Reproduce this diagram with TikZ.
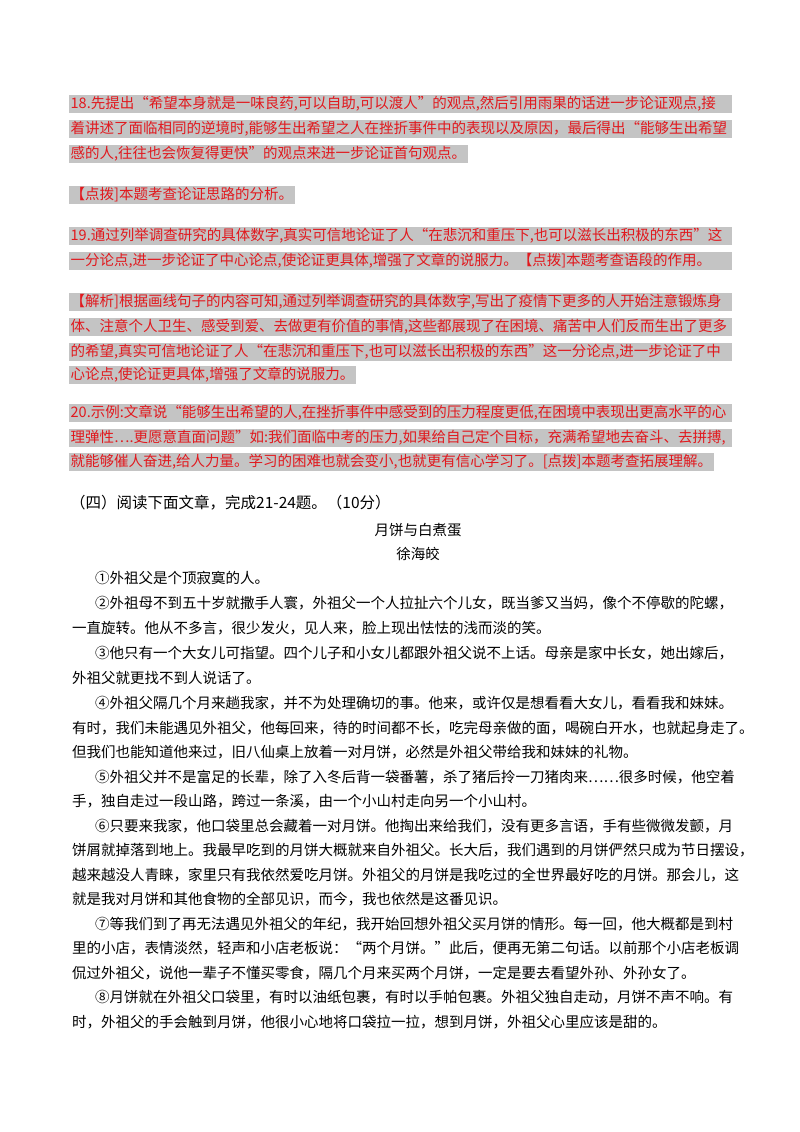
\documentclass[tikz,border=0pt]{standalone}
\usepackage{fontspec}
\setmainfont{Noto Sans CJK SC}
\definecolor{ansred}{RGB}{225,25,30}
\definecolor{hl}{RGB}{196,196,196}
\XeTeXlinebreaklocale "zh"
\XeTeXlinebreakskip=0pt plus 3pt
\newcommand\rfull[1]{\hbox to 660pt{#1}}
\newcommand\bfull[1]{\hbox to 655pt{#1}}
\newcommand\bind[1]{\hbox to 632pt{#1}}
\begin{document}
\begin{tikzpicture}[x=1pt,y=-1pt,
  ans/.style={anchor=west,fill=hl,text=ansred,inner sep=1.5pt,font=\fontsize{14.5}{17}\selectfont},
  body/.style={anchor=west,inner sep=0pt,font=\fontsize{14.5}{17}\selectfont}]
\useasboundingbox[fill=white] (0,0) rectangle (800,1132);
\node[ans] (r1) at (69,104) {\rfull{18.先提出“希望本身就是一味良药,可以自助,可以渡人”的观点,然后引用雨果的话进一步论证观点,接}};
\node[ans] (r2) at (69,129) {\rfull{着讲述了面临相同的逆境时,能够生出希望之人在挫折事件中的表现以及原因，最后得出“能够生出希望}};
\node[ans] (r3) at (69,154) {感的人,往往也会恢复得更快”的观点来进一步论证首句观点。};
\node[ans] (r4) at (69,195) {【点拨]本题考查论证思路的分析。};
\node[ans] (r5) at (69,236) {\rfull{19.通过列举调查研究的具体数字,真实可信地论证了人“在悲沉和重压下,也可以滋长出积极的东西”这}};
\node[ans] (r6) at (69,261) {\rfull{一分论点,进一步论证了中心论点,使论证更具体,增强了文章的说服力。【点拨]本题考查语段的作用。}};
\node[ans] (r7) at (69,302) {\rfull{【解析]根据画线句子的内容可知,通过列举调查研究的具体数字,写出了疫情下更多的人开始注意锻炼身}};
\node[ans] (r8) at (69,327) {\rfull{体、注意个人卫生、感受到爱、去做更有价值的事情,这些都展现了在困境、痛苦中人们反而生出了更多}};
\node[ans] (r9) at (69,352) {\rfull{的希望,真实可信地论证了人“在悲沉和重压下,也可以滋长出积极的东西”这一分论点,进一步论证了中}};
\node[ans] (r10) at (69,375) {心论点,使论证更具体,增强了文章的说服力。};
\node[ans] (r11) at (69,413) {\rfull{20.示例:文章说“能够生出希望的人,在挫折事件中感受到的压力程度更低,在困境中表现出更高水平的心}};
\node[ans] (r12) at (69,438) {\rfull{理弹性….更愿意直面问题”如:我们面临中考的压力,如果给自己定个目标，充满希望地去奋斗、去拼搏,}};
\node[ans] (r13) at (69,462) {就能够催人奋进,给人力量。学习的困难也就会变小,也就更有信心学习了。[点拨]本题考查拓展理解。};
\node[body,font=\fontsize{15.5}{18}\selectfont] (t0) at (70,503) {（四）阅读下面文章，完成21-24题。（10分）};
\node[body,anchor=center] (t1) at (418,530) {月饼与白煮蛋};
\node[body,anchor=center] (t2) at (418,554) {徐海皎};
\node[body] (p1) at (95,578) {①外祖父是个顶寂寞的人。};
\node[body] (p2) at (95,603) {\bind{②外祖母不到五十岁就撒手人寰，外祖父一个人拉扯六个儿女，既当爹又当妈，像个不停歇的陀螺，}};
\node[body] (p3) at (72,628) {一直旋转。他从不多言，很少发火，见人来，脸上现出怯怯的浅而淡的笑。};
\node[body] (p4) at (95,653) {\bind{③他只有一个大女儿可指望。四个儿子和小女儿都跟外祖父说不上话。母亲是家中长女，她出嫁后，}};
\node[body] (p5) at (72,678) {外祖父就更找不到人说话了。};
\node[body] (p6) at (95,703) {\bind{④外祖父隔几个月来趟我家，并不为处理确切的事。他来，或许仅是想看看大女儿，看看我和妹妹。}};
\node[body] (p7) at (72,728) {\bfull{有时，我们未能遇见外祖父，他每回来，待的时间都不长，吃完母亲做的面，喝碗白开水，也就起身走了。}};
\node[body] (p8) at (72,752) {但我们也能知道他来过，旧八仙桌上放着一对月饼，必然是外祖父带给我和妹妹的礼物。};
\node[body] (p9) at (95,777) {\bind{⑤外祖父并不是富足的长辈，除了入冬后背一袋番薯，杀了猪后拎一刀猪肉来……很多时候，他空着}};
\node[body] (p10) at (72,801) {手，独自走过一段山路，跨过一条溪，由一个小山村走向另一个小山村。};
\node[body] (p11) at (95,826) {\bind{⑥只要来我家，他口袋里总会藏着一对月饼。他掏出来给我们，没有更多言语，手有些微微发颤，月}};
\node[body] (p12) at (72,850) {\bfull{饼屑就掉落到地上。我最早吃到的月饼大概就来自外祖父。长大后，我们遇到的月饼俨然只成为节日摆设，}};
\node[body] (p13) at (72,875) {\bfull{越来越没人青睐，家里只有我依然爱吃月饼。外祖父的月饼是我吃过的全世界最好吃的月饼。那会儿，这}};
\node[body] (p14) at (72,899) {就是我对月饼和其他食物的全部见识，而今，我也依然是这番见识。};
\node[body] (p15) at (95,924) {\bind{⑦等我们到了再无法遇见外祖父的年纪，我开始回想外祖父买月饼的情形。每一回，他大概都是到村}};
\node[body] (p16) at (72,948) {\bfull{里的小店，表情淡然，轻声和小店老板说：“两个月饼。”此后，便再无第二句话。以前那个小店老板调}};
\node[body] (p17) at (72,973) {侃过外祖父，说他一辈子不懂买零食，隔几个月来买两个月饼，一定是要去看望外孙、外孙女了。};
\node[body] (p18) at (95,997) {\bind{⑧月饼就在外祖父口袋里，有时以油纸包裹，有时以手帕包裹。外祖父独自走动，月饼不声不响。有}};
\node[body] (p19) at (72,1022) {时，外祖父的手会触到月饼，他很小心地将口袋拉一拉，想到月饼，外祖父心里应该是甜的。};
\end{tikzpicture}
\end{document}
